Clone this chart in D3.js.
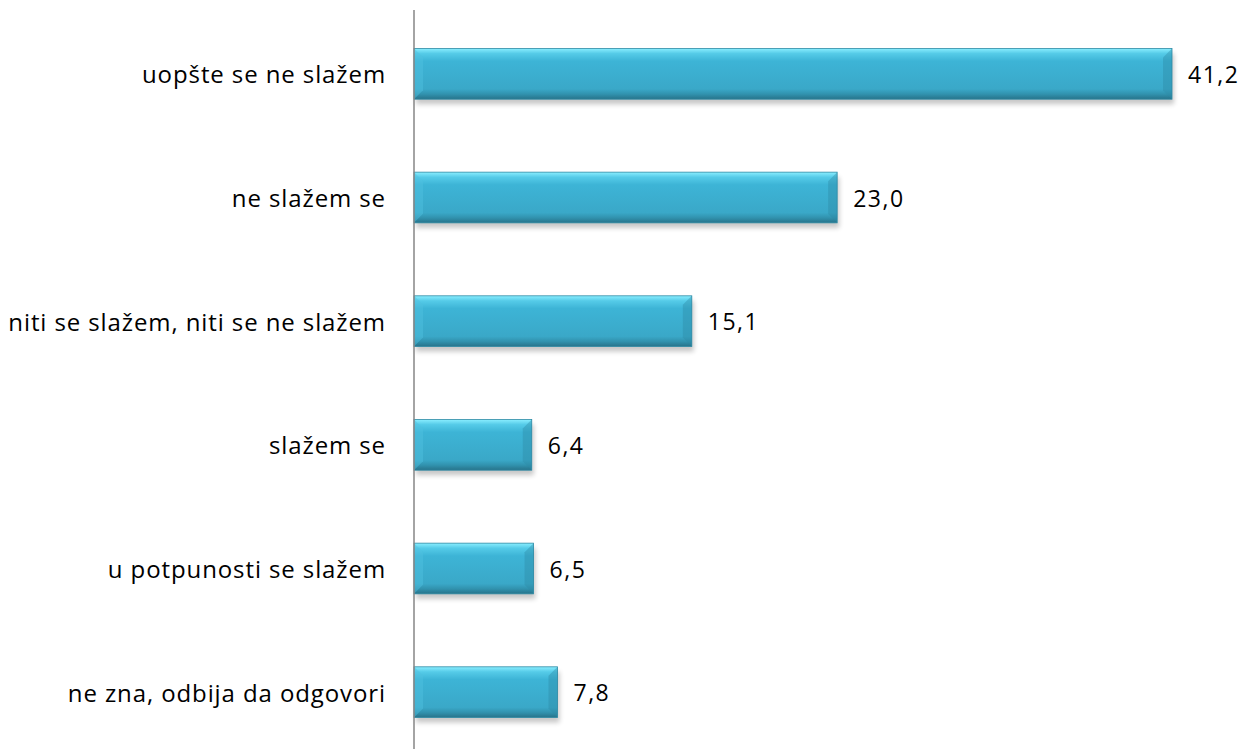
<!DOCTYPE html>
<html>
<head>
<meta charset="utf-8">
<script src="https://cdn.jsdelivr.net/npm/d3@7"></script>
<style>
  body { margin: 0; background: #fff; }
  text { font-family: "Open Sans", sans-serif; fill: #000; }
</style>
</head>
<body>
<svg id="main"></svg>
<script>
var categories = ["uopšte se ne slažem", "ne slažem se", "niti se slažem, niti se ne slažem",
                  "slažem se", "u potpunosti se slažem", "ne zna, odbija da odgovori"];
var values = [41.2, 23.0, 15.1, 6.4, 6.5, 7.8];
var valueLabels = ["41,2", "23,0", "15,1", "6,4", "6,5", "7,8"];

var width = 1242, height = 749;
var svg = d3.select("#main").attr("width", width).attr("height", height);

var x = d3.scaleLinear().domain([0, 41.2]).range([414, 1172]);
var y = d3.scaleBand().domain(categories).range([12, 754])
    .paddingInner(0.59).paddingOuter(0.295);

// gradients
var defs = svg.append("defs");
var g1 = defs.append("linearGradient").attr("id", "barGrad")
    .attr("x1", 0).attr("y1", 0).attr("x2", 0).attr("y2", 1);
g1.append("stop").attr("offset", "0").attr("stop-color", "#8aeeff");
g1.append("stop").attr("offset", "0.1").attr("stop-color", "#55cbe8");
g1.append("stop").attr("offset", "0.25").attr("stop-color", "#3db4d6");
g1.append("stop").attr("offset", "0.8").attr("stop-color", "#3aa8c8");
g1.append("stop").attr("offset", "0.9").attr("stop-color", "#3192ae");
g1.append("stop").attr("offset", "1").attr("stop-color", "#27738a");
var shadow = defs.append("filter").attr("id", "shadow")
    .attr("x", "-5%").attr("y", "-20%").attr("width", "110%").attr("height", "160%");
shadow.append("feGaussianBlur").attr("stdDeviation", 2.5);

var bars = svg.append("g").selectAll("g.bar")
    .data(categories).enter().append("g").attr("class", "bar");

// shadow under the bars
bars.append("rect")
    .attr("x", x(0) + 2)
    .attr("y", function (d) { return y(d) + 5; })
    .attr("width", function (d, i) { return x(values[i]) - x(0); })
    .attr("height", y.bandwidth())
    .attr("fill", "#000").attr("opacity", 0.22)
    .attr("filter", "url(#shadow)");

bars.append("rect")
    .attr("x", x(0))
    .attr("y", function (d) { return y(d); })
    .attr("width", function (d, i) { return x(values[i]) - x(0); })
    .attr("height", y.bandwidth())
    .attr("fill", "url(#barGrad)")
    .attr("stroke", "#2e8aa5").attr("stroke-width", 0.8);

// bevel edges left (light) and right (dark)
var bev = 9;
bars.append("polygon")
    .attr("points", function (d) {
        var x0 = x(0), y0 = y(d), h = y.bandwidth();
        return [[x0, y0], [x0 + bev, y0 + bev], [x0 + bev, y0 + h - bev], [x0, y0 + h]].join(" ");
    })
    .attr("fill", "#4fc2e0").attr("opacity", 0.45);
bars.append("polygon")
    .attr("points", function (d, i) {
        var x1 = x(values[i]), y0 = y(d), h = y.bandwidth();
        return [[x1, y0], [x1 - bev, y0 + bev], [x1 - bev, y0 + h - bev], [x1, y0 + h]].join(" ");
    })
    .attr("fill", "#2d8aa5").attr("opacity", 0.4);

// axis line
svg.append("line")
    .attr("x1", x(0)).attr("x2", x(0))
    .attr("y1", 10).attr("y2", height)
    .attr("stroke", "#868686").attr("stroke-width", 1.5);

// category labels
svg.append("g").selectAll("text")
    .data(categories).enter().append("text")
    .attr("x", 386)
    .attr("y", function (d) { return y(d) + y.bandwidth() / 2 + 1; })
    .attr("dy", "0.35em")
    .attr("text-anchor", "end")
    .style("font-size", "24px")
    .style("letter-spacing", "0.9px")
    .text(function (d) { return d; });

// value labels
svg.append("g").selectAll("text")
    .data(categories).enter().append("text")
    .attr("x", function (d, i) { return x(values[i]) + 16; })
    .attr("y", function (d) { return y(d) + y.bandwidth() / 2 + 1; })
    .attr("dy", "0.35em")
    .style("font-size", "23px")
    .style("letter-spacing", "1.5px")
    .text(function (d, i) { return valueLabels[i]; });
</script>
</body>
</html>
